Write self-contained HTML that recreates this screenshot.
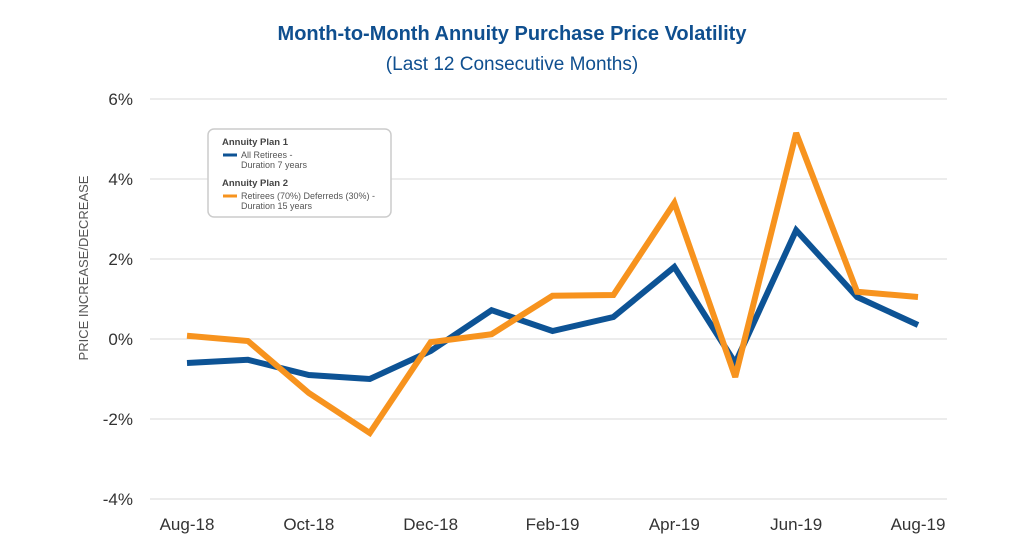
<!DOCTYPE html>
<html><head><meta charset="utf-8"><style>
body{margin:0;background:#fff;font-family:"Liberation Sans",sans-serif;}
svg{display:block}
</style></head><body>
<svg id="chart" width="1024" height="558">
<text x="512" y="40" text-anchor="middle" font-size="20" font-weight="bold" fill="#0f4f8f">Month-to-Month Annuity Purchase Price Volatility</text>
<text x="512" y="70" text-anchor="middle" font-size="19" fill="#0f4f8f">(Last 12 Consecutive Months)</text>
<text transform="translate(88,268) rotate(-90)" text-anchor="middle" font-size="13" fill="#555">PRICE INCREASE/DECREASE</text>
<g id="grid"></g><g id="series"></g>
<g>
<rect x="208" y="129" width="183" height="88" rx="6" fill="#fff" stroke="#ccc" stroke-width="1.5"/>
<text x="222" y="145" font-size="9.5" font-weight="bold" fill="#444">Annuity Plan 1</text>
<line x1="223" y1="155" x2="237" y2="155" stroke="#0d5395" stroke-width="3"/>
<text x="241" y="158" font-size="9" fill="#555">All Retirees -</text>
<text x="241" y="168" font-size="9" fill="#555">Duration 7 years</text>
<text x="222" y="186" font-size="9.5" font-weight="bold" fill="#444">Annuity Plan 2</text>
<line x1="223" y1="196" x2="237" y2="196" stroke="#f7931e" stroke-width="3"/>
<text x="241" y="199" font-size="9" fill="#555">Retirees (70%) Deferreds (30%) -</text>
<text x="241" y="209" font-size="9" fill="#555">Duration 15 years</text>
</g>
</svg>
<script>
const categories=["Aug-18","Sep-18","Oct-18","Nov-18","Dec-18","Jan-19","Feb-19","Mar-19","Apr-19","May-19","Jun-19","Jul-19","Aug-19"];
const plan1=[-0.6,-0.52,-0.9,-1.0,-0.3,0.72,0.2,0.55,1.8,-0.6,2.72,1.05,0.35];
const plan2=[0.08,-0.05,-1.35,-2.35,-0.08,0.12,1.08,1.1,3.4,-0.95,5.15,1.18,1.05];
const yTicks=[6,4,2,0,-2,-4];
const NS="http://www.w3.org/2000/svg";
const x=i=>187+i*(918-187)/12;
const y=v=>339-v*40;
const grid=document.getElementById('grid');
yTicks.forEach(t=>{
 const l=document.createElementNS(NS,'line');
 l.setAttribute('x1',150);l.setAttribute('x2',947);l.setAttribute('y1',y(t));l.setAttribute('y2',y(t));
 l.setAttribute('stroke','#d9d9d9');l.setAttribute('stroke-width',1);
 
 
 grid.appendChild(l);
 const tx=document.createElementNS(NS,'text');
 tx.setAttribute('x',133);tx.setAttribute('y',y(t)+6);tx.setAttribute('text-anchor','end');
 tx.setAttribute('font-size',17);tx.setAttribute('fill','#333');tx.textContent=t+'%';
 
 
 grid.appendChild(tx);
});
categories.forEach((c,i)=>{
 if(i%2) return;
 const tx=document.createElementNS(NS,'text');
 tx.setAttribute('x',x(i));tx.setAttribute('y',530);tx.setAttribute('text-anchor','middle');
 tx.setAttribute('font-size',17);tx.setAttribute('fill','#333');tx.textContent=c;
 
 
 grid.appendChild(tx);
});
const ser=document.getElementById('series');
[[plan1,'#0d5395','line-plan1'],[plan2,'#f7931e','line-plan2']].forEach(([d,col,n])=>{
 const p=document.createElementNS(NS,'polyline');
 p.setAttribute('points',d.map((v,i)=>x(i)+','+y(v)).join(' '));
 p.setAttribute('fill','none');p.setAttribute('stroke',col);p.setAttribute('stroke-width',6);
 p.setAttribute('stroke-linejoin','miter');p.setAttribute('stroke-miterlimit','3');
 
 
 ser.appendChild(p);
});
</script>
</body></html>
